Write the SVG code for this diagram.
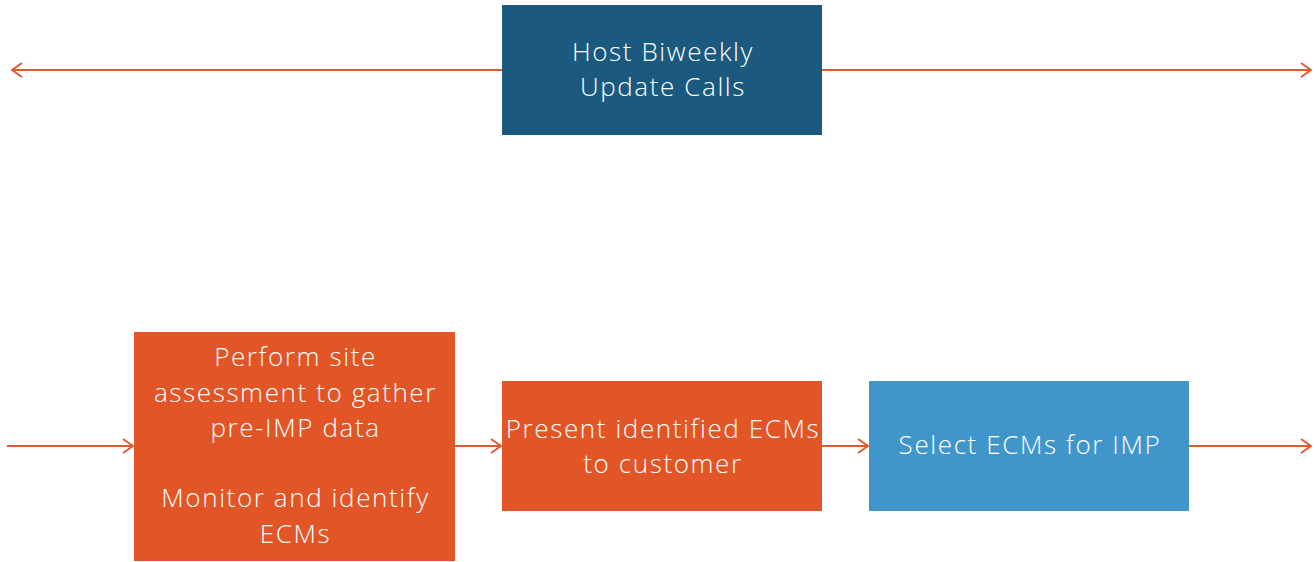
<svg xmlns="http://www.w3.org/2000/svg" width="1315" height="562" viewBox="0 0 1315 562">
<defs>
<style>
.t{font-family:"Open Sans","Liberation Sans",sans-serif;font-size:26px;letter-spacing:1.6px;fill:#fff;text-anchor:middle;font-weight:300}
.c{stroke:#E05A2B;stroke-width:2;fill:none}
</style>
<marker id="ah" viewBox="0 0 12 16" refX="11" refY="8" markerWidth="12" markerHeight="16" markerUnits="userSpaceOnUse" orient="auto-start-reverse">
<path d="M1,1 L11,8 L1,15" fill="none" stroke="#E05A2B" stroke-width="2"/>
</marker>
</defs>
<rect width="1315" height="562" fill="#fff"/>
<g id="connectors">
<line class="c" x1="502" y1="70" x2="12" y2="70" marker-end="url(#ah)"/>
<line class="c" x1="822" y1="70" x2="1311" y2="70" marker-end="url(#ah)"/>
<line class="c" x1="7" y1="446" x2="133" y2="446" marker-end="url(#ah)"/>
<line class="c" x1="455" y1="446" x2="501" y2="446" marker-end="url(#ah)"/>
<line class="c" x1="822" y1="446" x2="868" y2="446" marker-end="url(#ah)"/>
<line class="c" x1="1189" y1="446" x2="1311" y2="446" marker-end="url(#ah)"/>
</g>
<g id="host">
<rect x="502" y="5" width="320" height="130" fill="#1B5A7E"/>
<text class="t" x="663" y="61">Host Biweekly</text>
<text class="t" x="663" y="96">Update Calls</text>
</g>
<g id="assess">
<rect x="134" y="332" width="321" height="229" fill="#E25526"/>
<text class="t" x="295.5" y="366">Perform site</text>
<text class="t" x="295.5" y="402">assessment to gather</text>
<text class="t" x="295.5" y="437">pre-IMP data</text>
<text class="t" x="295.5" y="507">Monitor and identify</text>
<text class="t" x="295.5" y="543">ECMs</text>
</g>
<g id="present">
<rect x="502" y="381" width="320" height="130" fill="#E25526"/>
<text class="t" x="663" y="438">Present identified ECMs</text>
<text class="t" x="663" y="473">to customer</text>
</g>
<g id="select">
<rect x="869" y="381" width="320" height="130" fill="#4096CB"/>
<text class="t" x="1030" y="454">Select ECMs for IMP</text>
</g>
</svg>
